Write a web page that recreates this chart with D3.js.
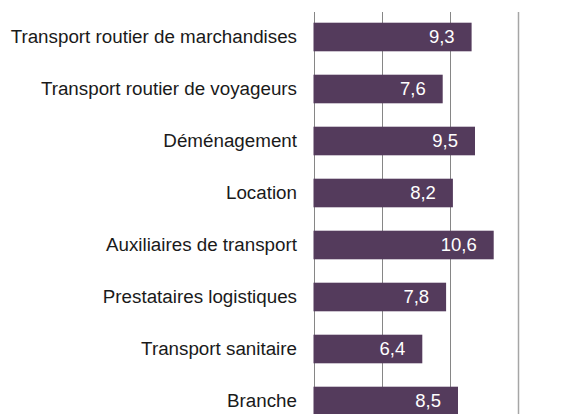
<!DOCTYPE html>
<html><head><meta charset="utf-8">
<script src="https://cdn.jsdelivr.net/npm/d3@7"></script>
<style>
html,body{margin:0;padding:0;background:#fff;}
svg{display:block;}
text{font-family:"Liberation Sans",Arial,sans-serif;}
</style></head>
<body>
<script>
const categories = ["Transport routier de marchandises","Transport routier de voyageurs","Déménagement","Location","Auxiliaires de transport","Prestataires logistiques","Transport sanitaire","Branche"];
const values = [9.3, 7.6, 9.5, 8.2, 10.6, 7.8, 6.4, 8.5];
const valueLabels = ["9,3","7,6","9,5","8,2","10,6","7,8","6,4","8,5"];
const gridTicks = [0, 4, 8, 12];

const W = 573, H = 414;
const svg = d3.select("body").append("svg").attr("width", W).attr("height", H);

const x = d3.scaleLinear().domain([0, 12]).range([313.5, 517.5]);
const y = d3.scaleBand().domain(categories).range([11, 427]).paddingInner(0.45).paddingOuter(0.225);

// gridlines
svg.append("g").selectAll("line").data(gridTicks).join("line")
  .attr("x1", d => Math.round(x(d)) + 0.5).attr("x2", d => Math.round(x(d)) + 0.5)
  .attr("y1", 12).attr("y2", H)
  .attr("stroke", d => d === 12 ? "#a6a6a6" : "#868686")
  .attr("stroke-width", d => d === 12 ? 1.5 : 1);

// bars
svg.append("g").selectAll("rect").data(categories).join("rect")
  .attr("x", x(0))
  .attr("y", d => y(d))
  .attr("width", (d, i) => x(values[i]) - x(0))
  .attr("height", y.bandwidth())
  .attr("fill", "#543b5c");

// value labels
svg.append("g").selectAll("text").data(categories).join("text")
  .attr("x", (d, i) => x(values[i]) - 17)
  .attr("y", d => y(d) + y.bandwidth() / 2)
  .attr("dy", "0.34em")
  .attr("text-anchor", "end")
  .attr("fill", "#ffffff")
  .attr("font-size", 18.5)
  .text((d, i) => valueLabels[i]);

// category labels
svg.append("g").selectAll("text").data(categories).join("text")
  .attr("x", 297)
  .attr("y", d => y(d) + y.bandwidth() / 2)
  .attr("dy", "0.34em")
  .attr("text-anchor", "end")
  .attr("fill", "#1a1a1a")
  .attr("font-size", 18.8)
  .text(d => d);
</script>
</body></html>
